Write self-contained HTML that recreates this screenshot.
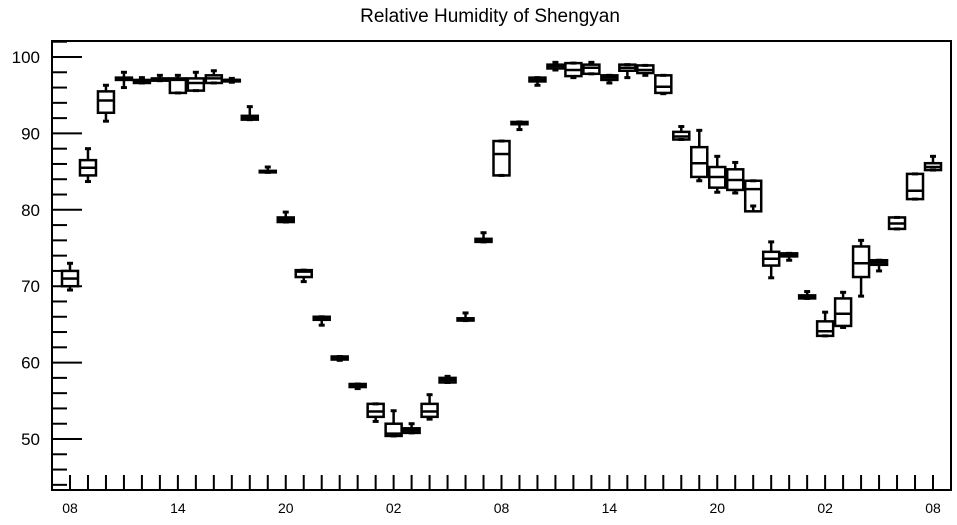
<!DOCTYPE html>
<html><head><meta charset="utf-8"><style>
body{margin:0;background:#fff;}
svg text{font-family:"Liberation Sans",sans-serif;fill:#000;}
</style></head><body>
<svg id="chart" width="957" height="520" viewBox="0 0 957 520" xmlns="http://www.w3.org/2000/svg">
<text x="490" y="22" font-size="19" text-anchor="middle">Relative Humidity of Shengyan</text>
<rect x="52" y="41" width="899" height="449" fill="none" stroke="#000" stroke-width="2"/>
<g id="axes"></g>
<g id="marks"></g>
</svg>
<script>
const hourLabels = ["08","14","20","02","08","14","20","02","08"];
const yTicks = [50,60,70,80,90,100];
const mins = [69.5,83.7,91.6,96,96.6,96.9,95.3,95.6,96.6,96.7,91.8,84.9,78.4,70.6,64.9,60.3,56.6,52.3,50.4,50.8,52.6,57.4,65.5,75.8,84.5,90.5,96.3,98.3,97.3,97.8,96.6,97.3,97.6,95.2,89.2,83.8,82.3,82.2,80.5,71.1,73.4,68.4,63.5,64.6,68.7,72.0,77.5,81.4,85.2];
const q1s = [70,84.5,92.7,97,96.6,96.9,95.3,95.6,96.6,96.9,91.8,84.9,78.4,71.2,65.6,60.4,56.8,52.9,50.4,50.8,52.9,57.4,65.5,75.8,84.5,91.2,96.8,98.5,97.5,97.8,97.0,98.2,97.9,95.3,89.2,84.3,82.9,82.6,79.8,72.7,73.9,68.4,63.5,64.8,71.2,72.8,77.5,81.4,85.2];
const medians = [71,85.5,94.3,97.2,96.8,97.0,97,96.6,97.2,97.0,92,85,78.7,71.9,65.8,60.6,57,53.6,50.7,51.1,53.6,57.7,65.6,76,87.3,91.4,97,98.8,98.3,98.6,97.3,98.6,98.3,96.1,89.6,86.1,84.3,83.9,82.7,73.6,74.1,68.6,64.1,66.4,73.0,73.1,78.2,82.5,85.6];
const q3s = [72,86.5,95.5,97.3,97.0,97.2,97.2,97.2,97.6,97.0,92.3,85.1,79,72.1,66.0,60.8,57.2,54.6,52.0,51.4,54.6,58.0,65.8,76.2,89,91.5,97.3,99.0,99.2,99.0,97.6,99.0,98.9,97.6,90.2,88.2,85.6,85.3,83.8,74.5,74.3,68.8,65.4,68.4,75.2,73.4,79.0,84.7,86.1];
const maxs = [73,88,96.3,98,97.3,97.6,97.6,98,98.2,97.2,93.5,85.6,79.7,72.1,66,60.8,57.2,54.6,53.7,52,55.8,58.2,66.5,77,89,91.5,97.3,99.3,99.2,99.3,97.6,99,98.9,97.6,90.9,90.4,87.0,86.2,83.8,75.8,74.3,69.3,66.6,69.2,76.0,73.4,79.0,84.7,87.0];

const NS="http://www.w3.org/2000/svg";
const x0=70, dx=(933-70)/48;
const xs = i => x0 + i*dx;
const ys = v => 57 + (100 - v)*7.64;
const axes=document.getElementById('axes'), marks=document.getElementById('marks');
function mk(tag, attrs, parent){const e=document.createElementNS(NS,tag);for(const k in attrs)e.setAttribute(k,attrs[k]);parent.appendChild(e);return e;}

// y ticks
for(let v=44; v<=102; v+=2){
  const major = v%10===0;
  const t=mk('line',{x1:52,x2:major?82:67,y1:ys(v),y2:ys(v),stroke:'#000','stroke-width':2},axes);
  
  
}
yTicks.forEach(v=>{
  const t=mk('text',{x:40,y:ys(v)+6,'font-size':17,'text-anchor':'end'},axes);
  t.textContent=v;
  
  
});
// x ticks
for(let i=0;i<mins.length;i++){
  const t=mk('line',{x1:xs(i),x2:xs(i),y1:490,y2:475,stroke:'#000','stroke-width':2},axes);
  
  
}
hourLabels.forEach((l,k)=>{
  const t=mk('text',{x:xs(k*6),y:513,'font-size':14,'text-anchor':'middle'},axes);
  t.textContent=l;
  
  
});
// boxes
const bw=16, cw=6;
for(let i=0;i<mins.length;i++){
  const g=mk('g',{stroke:'#000','stroke-width':2.5,fill:'none'},marks);
  
  
  const x=xs(i);
  mk('line',{x1:x,x2:x,y1:ys(maxs[i]),y2:ys(q3s[i])},g);
  mk('line',{x1:x,x2:x,y1:ys(q1s[i]),y2:ys(mins[i])},g);
  mk('line',{x1:x-cw/2,x2:x+cw/2,y1:ys(maxs[i]),y2:ys(maxs[i]),'stroke-width':3},g);
  mk('line',{x1:x-cw/2,x2:x+cw/2,y1:ys(mins[i]),y2:ys(mins[i]),'stroke-width':3},g);
  const top=ys(q3s[i]), h=Math.max(ys(q1s[i])-top,1.5);
  mk('rect',{x:x-bw/2,y:top,width:bw,height:h},g);
  mk('line',{x1:x-bw/2,x2:x+bw/2,y1:ys(medians[i]),y2:ys(medians[i])},g);
}
</script>
</body></html>
